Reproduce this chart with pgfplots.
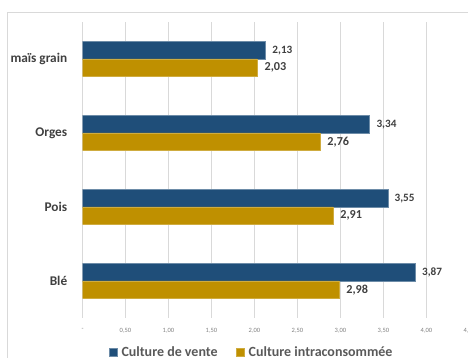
\documentclass[border=0pt]{standalone}
\usepackage{fontspec}
\setmainfont{Carlito}
\usepackage{pgfplots}
\pgfplotsset{compat=1.18}
\definecolor{cblue}{HTML}{1F4E79}
\definecolor{cgold}{HTML}{BF9000}
\definecolor{txt}{HTML}{404040}
\definecolor{legtxt}{HTML}{595959}
\definecolor{gridc}{HTML}{D9D9D9}
\definecolor{tickc}{HTML}{808080}
\begin{document}
\begin{tikzpicture}
\path[use as bounding box] (0pt,0pt) rectangle (468pt,358pt);
\draw[gridc, line width=0.8pt] (7pt,-5pt) -- (7pt,346pt) -- (475pt,346pt);
\begin{axis}[
  at={(82.5pt,40pt)}, anchor=south west,
  scale only axis, width=387pt, height=296pt,
  xbar, bar width=17.5pt,
  xmin=0, xmax=4.5, ymin=-0.5, ymax=3.5,
  axis line style={draw=none},
  xmajorgrids, major grid style={gridc, line width=0.8pt},
  tick style={draw=none},
  xtick={0,0.5,1,1.5,2,2.5,3,3.5,4,4.5},
  xticklabels={-,{0,50},{1,00},{1,50},{2,00},{2,50},{3,00},{3,50},{4,00},{4,50}},
  xticklabel style={font=\fontsize{6.5}{7}\selectfont, text=tickc, yshift=-7pt},
  ytick={0,1,2,3},
  yticklabels={Blé,Pois,Orges,{maïs grain}},
  yticklabel style={font=\bfseries\fontsize{13.3}{15}\selectfont, text=txt, xshift=-7.5pt},
  point meta=x,
  legend style={at={(axis description cs:0.068,-0.115)}, anchor=west, draw=none, fill=none,
    legend columns=2, font=\bfseries\fontsize{14}{16}\selectfont, text=legtxt,
    /tikz/every odd column/.append style={column sep=2.5pt},
    /tikz/every even column/.append style={column sep=17pt}, inner sep=0pt,
    nodes={inner sep=1.5pt}},
  legend image code/.code={\fill[#1] (0pt,-4pt) rectangle (8pt,4pt);},
]
\addplot[fill=cblue, draw=cblue!65!white, line width=0.5pt, bar shift=8.75pt,
  nodes near coords={\pgfmathprintnumber[fixed,fixed zerofill,precision=2,use comma,assume math mode=true]{\pgfplotspointmeta}},
  nodes near coords style={font=\bfseries\fontsize{11.2}{12}\selectfont, text=txt, anchor=west, xshift=3.2pt}]
  coordinates {(3.87,0) (3.55,1) (3.34,2) (2.13,3)};
\addplot[fill=cgold, draw=cgold!75!white, line width=0.5pt, bar shift=-8.75pt,
  nodes near coords={\pgfmathprintnumber[fixed,fixed zerofill,precision=2,use comma,assume math mode=true]{\pgfplotspointmeta}},
  nodes near coords style={font=\bfseries\fontsize{12.2}{14}\selectfont, text=txt, anchor=west, xshift=4pt}]
  coordinates {(2.98,0) (2.91,1) (2.76,2) (2.03,3)};
\legend{Culture de vente, Culture intraconsommée}
\end{axis}
\end{tikzpicture}
\end{document}
